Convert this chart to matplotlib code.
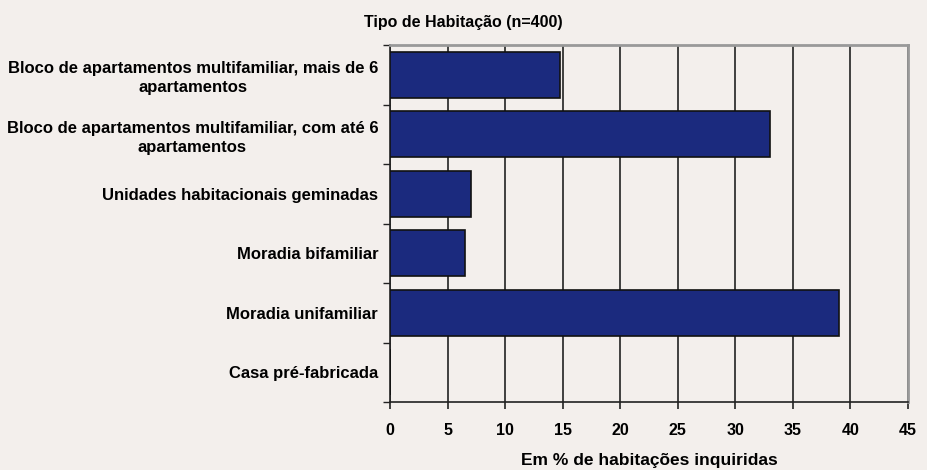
import matplotlib.pyplot as plt
import numpy as np

plt.rcParams['font.family'] = ['Liberation Sans', 'DejaVu Sans']
plt.rcParams['font.weight'] = 'bold'

# data, top to bottom as shown
categories = [
    'Bloco de apartamentos multifamiliar, mais de 6\napartamentos',
    'Bloco de apartamentos multifamiliar, com até 6\napartamentos',
    'Unidades habitacionais geminadas',
    'Moradia bifamiliar',
    'Moradia unifamiliar',
    'Casa pré-fabricada',
]
values = [14.8, 33.0, 7.0, 6.5, 39.0, 0.0]
xticks = [0, 5, 10, 15, 20, 25, 30, 35, 40, 45]

bg = '#f3efec'
fig = plt.figure(figsize=(9.27, 4.70), dpi=100, facecolor=bg)
ax = fig.add_axes([390/927, 1 - 402/470, 518/927, 357/470])
ax.set_facecolor(bg)

y = np.arange(len(categories))
ax.barh(y, values, height=0.78, color='#1b2a7e', edgecolor='#111111', linewidth=1.2, zorder=3)

ax.set_xlim(0, 45)
ax.set_ylim(len(categories) - 0.5, -0.5)
ax.set_xticks(xticks)
ax.set_xticklabels([str(t) for t in xticks], fontsize=11.5, fontweight='bold')
ax.grid(axis='x', color='#222222', linewidth=1.2, zorder=0)

ax.set_yticks(y)
ax.set_yticklabels(categories, fontsize=12, fontweight='bold', multialignment='center', linespacing=1.35)
ax.tick_params(axis='y', length=0, pad=8.5)
ax.set_yticks(np.arange(len(categories) + 1) - 0.5, minor=True)
ax.tick_params(axis='y', which='minor', length=5, width=1, color='#222222')
ax.tick_params(axis='x', length=5, width=1.2, color='#222222', pad=10, direction='out')

for s in ['top', 'right']:
    ax.spines[s].set_color('#999999')
    ax.spines[s].set_linewidth(2)
for s in ['left', 'bottom']:
    ax.spines[s].set_color('#222222')
    ax.spines[s].set_linewidth(1.2)

fig.text(463/927, 1 - 22/470, 'Tipo de Habitação (n=400)', ha='center', va='center', fontsize=11.5, fontweight='bold')
fig.text(649/927, 1 - 461/470, 'Em % de habitações inquiridas', ha='center', va='center', fontsize=12.5, fontweight='bold')

fig.savefig('out.png', dpi=100, facecolor=bg)
